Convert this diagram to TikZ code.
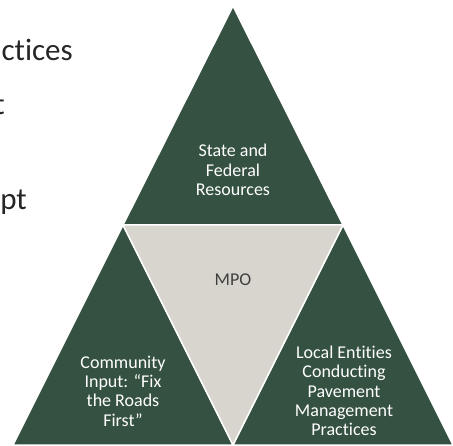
\documentclass[tikz,border=0pt]{standalone}
\usepackage{fontspec}
\setmainfont{Carlito}[Ligatures=NoCommon]
\definecolor{pinegreen}{RGB}{53,81,66}
\definecolor{mpogray}{RGB}{216,213,206}

\begin{document}
\begin{tikzpicture}[x=1pt,y=1pt,
    tri/.style={fill=pinegreen, draw=white, line width=1.5pt},
    midtri/.style={fill=mpogray, draw=white, line width=1.5pt},
    lbl/.style={align=center, text=white, inner sep=0pt, font=\fontsize{18}{19.4}\selectfont},
    frag/.style={anchor=base east, inner sep=0pt, text=black!85, font=\fontsize{31}{36}\selectfont}]
    \useasboundingbox (0,0) rectangle (453,445);

    % corners of the four triangles
    \coordinate (apex) at (233,439);
    \coordinate (ml) at (123,220);
    \coordinate (mr) at (343,220);
    \coordinate (bl) at (13,0);
    \coordinate (bm) at (233,0);
    \coordinate (br) at (453,0);
    \draw[tri] (apex) -- (ml) -- (mr) -- cycle;
    \draw[tri] (ml) -- (bl) -- (bm) -- cycle;
    \draw[tri] (mr) -- (bm) -- (br) -- cycle;
    \draw[midtri] (ml) -- (mr) -- (bm) -- cycle;

    \node[lbl] (state) at (233,275) {State and\\Federal\\Resources};
    \node[lbl, text=black!75] (mpo) at (233,165) {MPO};
    \node[lbl] (community) at (123,54) {Community\\Input: “Fix\\the Roads\\First”};
    \node[lbl] (local) at (344,54) {Local Entities\\Conducting\\Pavement\\Management\\Practices};

    % cut-off text at the left edge
    \node[frag] (line1) at (73,384) {ctices};
    \node[frag] (line2) at (5,330) {t};
    \node[frag] (line3) at (27,235) {pt};
\end{tikzpicture}
\end{document}
